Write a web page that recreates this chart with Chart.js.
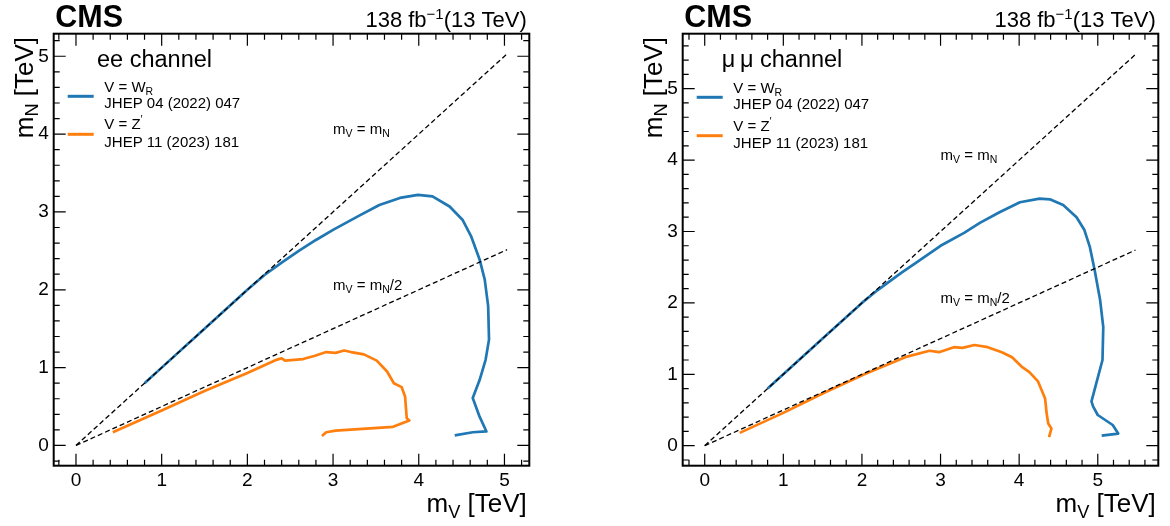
<!DOCTYPE html>
<html>
<head>
<meta charset="utf-8">
<script src="https://cdn.jsdelivr.net/npm/chart.js@4.4.1/dist/chart.umd.min.js"></script>
<style>
  body { margin: 0; background: #fff; }
  canvas { position: absolute; top: 0; }
</style>
</head>
<body>
<canvas id="eeChart" width="600" height="526" style="left:0"></canvas>
<canvas id="mumuChart" width="570" height="526" style="left:600px"></canvas>
<script>
// Tick labels (TeV)
const tickValues = [0, 1, 2, 3, 4, 5];

// ee channel, V = W_R (JHEP 04 (2022) 047)
const eeWRx = [0.80, 1.0, 1.5, 2.0, 2.2, 2.4, 2.6, 2.8, 3.0, 3.3, 3.54, 3.78, 3.99, 4.16, 4.36, 4.51, 4.61, 4.71, 4.77, 4.81, 4.82, 4.78, 4.71, 4.63, 4.71, 4.79, 4.63, 4.42];
const eeWRy = [0.80, 1.0, 1.5, 2.0, 2.19, 2.35, 2.5, 2.64, 2.77, 2.95, 3.09, 3.18, 3.22, 3.20, 3.07, 2.90, 2.69, 2.39, 2.13, 1.79, 1.36, 1.10, 0.84, 0.61, 0.37, 0.18, 0.17, 0.13];

// ee channel, V = Z' (JHEP 11 (2023) 181)
const eeZx = [0.43, 1.0, 1.5, 2.0, 2.34, 2.40, 2.44, 2.65, 2.78, 2.92, 3.03, 3.13, 3.21, 3.36, 3.51, 3.63, 3.71, 3.80, 3.84, 3.86, 3.89, 3.70, 3.03, 2.92, 2.87];
const eeZy = [0.17, 0.45, 0.70, 0.93, 1.10, 1.12, 1.09, 1.11, 1.15, 1.20, 1.19, 1.22, 1.20, 1.17, 1.09, 0.95, 0.80, 0.75, 0.63, 0.35, 0.32, 0.24, 0.19, 0.17, 0.12];

// mumu channel, V = W_R
const mmWRx = [0.80, 1.0, 1.5, 2.0, 2.2, 2.5, 2.7, 3.0, 3.3, 3.5, 3.75, 4.01, 4.26, 4.39, 4.56, 4.73, 4.83, 4.90, 4.96, 5.03, 5.07, 5.06, 4.98, 4.92, 4.94, 5.00, 5.19, 5.26, 5.05];
const mmWRy = [0.80, 1.0, 1.5, 2.0, 2.18, 2.42, 2.57, 2.80, 2.98, 3.12, 3.27, 3.41, 3.46, 3.45, 3.37, 3.20, 3.02, 2.78, 2.46, 2.04, 1.66, 1.20, 0.87, 0.62, 0.55, 0.43, 0.29, 0.17, 0.14];

// mumu channel, V = Z'
const mmZx = [0.445, 1.0, 1.5, 2.03, 2.55, 2.86, 2.98, 3.17, 3.28, 3.43, 3.60, 3.78, 3.91, 4.04, 4.13, 4.24, 4.33, 4.35, 4.37, 4.41, 4.38];
const mmZy = [0.18, 0.46, 0.73, 1.00, 1.24, 1.33, 1.31, 1.38, 1.37, 1.41, 1.38, 1.31, 1.24, 1.10, 1.03, 0.90, 0.66, 0.45, 0.31, 0.24, 0.12];

// reference lines m_V = m_N and m_V = m_N/2
const eeDiagX = [0, 5.03], eeDiagY = [0, 5.03];
const eeHalfX = [0, 5.03], eeHalfY = [0, 2.515];
const mmDiagX = [0, 5.48], mmDiagY = [0, 5.48];
const mmHalfX = [0, 5.48], mmHalfY = [0, 2.74];

const FONT = "'Liberation Sans', Arial, Helvetica, sans-serif";
const BLUE = "#1f77b4";
const ORANGE = "#ff7f0e";

function pts(xs, ys) {
  return xs.map((x, i) => ({ x: x, y: ys[i] }));
}

// draw text made of pieces: [text, size factor, shift in em]
function rich(ctx, parts, x, y, size, align, bold) {
  const f = (s) => (bold ? "bold " : "") + s + "px " + FONT;
  let w = 0;
  parts.forEach((p) => {
    ctx.font = f(size * p[1]);
    w += ctx.measureText(p[0]).width;
  });
  let cx = align === "right" ? x - w : x;
  ctx.textAlign = "left";
  ctx.textBaseline = "alphabetic";
  parts.forEach((p) => {
    ctx.font = f(size * p[1]);
    ctx.fillText(p[0], cx, y + p[2] * size);
    cx += ctx.measureText(p[0]).width;
  });
}

const decor = {
  id: "decor",
  afterDatasetsDraw(chart) {
    const { ctx, chartArea: a, scales } = chart;
    const o = chart.options.plugins.decor;
    ctx.save();
    ctx.strokeStyle = "#000";
    ctx.lineWidth = 1.2;
    const xs = scales.x, ys = scales.y;
    ctx.beginPath();
    for (let k = Math.ceil(xs.min * 5); k <= Math.floor(xs.max * 5); k++) {
      const px = xs.getPixelForValue(k / 5);
      const len = k % 5 === 0 ? 12 : 6;
      ctx.moveTo(px, a.bottom); ctx.lineTo(px, a.bottom - len);
      ctx.moveTo(px, a.top); ctx.lineTo(px, a.top + len);
    }
    for (let k = Math.ceil(ys.min * 5); k <= Math.floor(ys.max * 5); k++) {
      const py = ys.getPixelForValue(k / 5);
      const len = k % 5 === 0 ? 12 : 6;
      ctx.moveTo(a.left, py); ctx.lineTo(a.left + len, py);
      ctx.moveTo(a.right, py); ctx.lineTo(a.right - len, py);
    }
    ctx.stroke();
    ctx.lineWidth = 2;
    ctx.strokeRect(a.left, a.top, a.right - a.left, a.bottom - a.top);

    ctx.fillStyle = "#000";
    // header
    rich(ctx, [["CMS", 1, 0]], a.left + 1.5, 27.3, 30.5, "left", true);
    rich(ctx, [["138 fb", 1, 0], ["\u22121", 0.68, -0.36], ["(13 TeV)", 1, 0]], a.right - 2.5, 26.7, 22, "right");

    // axis titles
    rich(ctx, [["m", 1, 0], ["V", 0.7, 0.22], [" [TeV]", 1, 0]], a.right - 2.5, 512, 26, "right");
    ctx.save();
    ctx.translate(a.left - 21, 37);
    ctx.rotate(-Math.PI / 2);
    rich(ctx, [["m", 1, 0], ["N", 0.7, 0.22], [" [TeV]", 1, 0]], 0, 0, 26, "right");
    ctx.restore();

    // channel label and legend
    rich(ctx, [[o.channel, 1, 0]], a.left + o.chanDx, 67, 23.5, "left");
    const lx = a.left + 14, tx = a.left + 50.6;
    ctx.lineWidth = 3;
    ctx.strokeStyle = BLUE;
    ctx.beginPath(); ctx.moveTo(lx, o.legY[0]); ctx.lineTo(lx + 26, o.legY[0]); ctx.stroke();
    ctx.strokeStyle = ORANGE;
    ctx.beginPath(); ctx.moveTo(lx, o.legY[1]); ctx.lineTo(lx + 26, o.legY[1]); ctx.stroke();
    rich(ctx, [["V = W", 1, 0], ["R", 0.7, 0.2]], tx, o.legY[0] - 4.8, 15, "left");
    rich(ctx, [["JHEP 04 (2022) 047", 1, 0]], tx, o.legY[0] + 12, 15, "left");
    rich(ctx, [["V = Z", 1, 0], ["\u2032", 0.7, -0.4]], tx, o.legY[1] - 5, 15, "left");
    rich(ctx, [["JHEP 11 (2023) 181", 1, 0]], tx, o.legY[1] + 12.4, 15, "left");

    // line annotations
    const ax = xs.getPixelForValue(3.0);
    rich(ctx, [["m", 1, 0], ["V", 0.7, 0.22], [" = m", 1, 0], ["N", 0.7, 0.22]], ax, ys.getPixelForValue(4.0), 15, "left");
    rich(ctx, [["m", 1, 0], ["V", 0.7, 0.22], [" = m", 1, 0], ["N", 0.7, 0.22], ["/2", 1, 0]], ax, ys.getPixelForValue(2.0), 15, "left");
    ctx.restore();
  },
};

function makeChart(id, p) {
  const dashed = { borderColor: "#000", borderWidth: 1.3, borderDash: [5, 3], showLine: true, pointRadius: 0 };
  const solid = { borderWidth: 2.7, showLine: true, pointRadius: 0, borderJoinStyle: "round", borderCapStyle: "butt" };
  const axis = (fitKey, fitVal) => ({
    type: "linear",
    min: p.min,
    max: p.max,
    grid: { display: false, drawTicks: false },
    border: { display: false },
    ticks: { color: "#000", font: { family: FONT, size: 19 }, padding: fitKey === "height" ? 4 : 5, autoSkip: false },
    afterBuildTicks: (s) => { s.ticks = tickValues.map((v) => ({ value: v })); },
    afterFit: (s) => { s[fitKey] = fitVal; },
  });
  return new Chart(document.getElementById(id), {
    type: "scatter",
    data: {
      datasets: [
        Object.assign({ data: pts(p.diag[0], p.diag[1]) }, dashed),
        Object.assign({ data: pts(p.half[0], p.half[1]) }, dashed),
        Object.assign({ data: pts(p.wr[0], p.wr[1]), borderColor: BLUE }, solid),
        Object.assign({ data: pts(p.z[0], p.z[1]), borderColor: ORANGE }, solid),
      ],
    },
    options: {
      responsive: false,
      animation: false,
      devicePixelRatio: 1,
      layout: { padding: { left: 0, right: p.padRight, top: 33.7, bottom: 0 } },
      plugins: {
        legend: { display: false },
        tooltip: { enabled: false },
        decor: { channel: p.channel, chanDx: p.chanDx, legY: p.legY },
      },
      scales: {
        x: axis("height", 60.3),
        y: axis("width", p.yWidth),
      },
    },
    plugins: [decor],
  });
}

makeChart("eeChart", {
  min: -0.26, max: 5.29, yWidth: 53.7, padRight: 70.7,
  channel: "ee channel", chanDx: 43.3, legY: [96.3, 134.3],
  diag: [eeDiagX, eeDiagY], half: [eeHalfX, eeHalfY],
  wr: [eeWRx, eeWRy], z: [eeZx, eeZy],
});

makeChart("mumuChart", {
  min: -0.28, max: 5.77, yWidth: 82.7, padRight: 11.7,
  channel: "\u03bc\u2009\u03bc channel", chanDx: 39, legY: [97.3, 135.7],
  diag: [mmDiagX, mmDiagY], half: [mmHalfX, mmHalfY],
  wr: [mmWRx, mmWRy], z: [mmZx, mmZy],
});
</script>
</body>
</html>
